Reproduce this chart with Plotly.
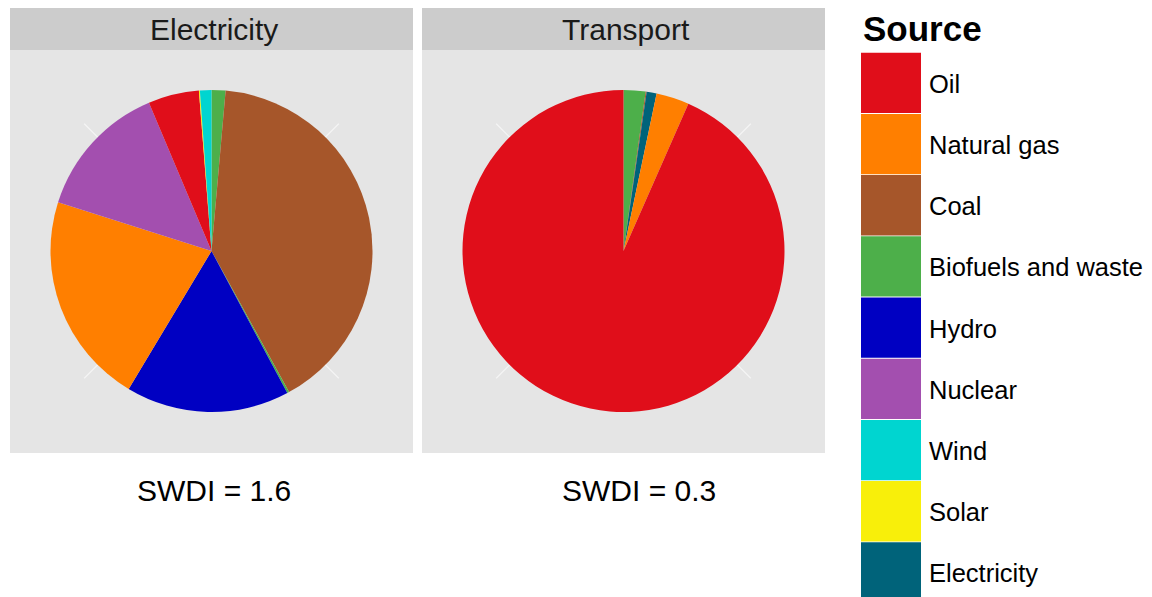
import plotly.graph_objects as go

W, H = 1152, 597
OX, OY = 8, 8  # page body margin compensation

# ---- data ----
source_names = ["Oil", "Natural gas", "Coal", "Biofuels and waste", "Hydro",
                "Nuclear", "Wind", "Solar", "Electricity"]
source_colors = ["#E00E1A", "#FF7F00", "#A6562A", "#4DAF4A", "#0000C2",
                 "#A34FAF", "#00D5D0", "#F8EF0A", "#00637A"]

panel_titles = ["Electricity", "Transport"]
swdi_labels = ["SWDI = 1.6", "SWDI = 0.3"]

elec_sources = ["Biofuels and waste", "Coal", "Biofuels and waste", "Hydro",
                "Natural gas", "Nuclear", "Oil", "Solar", "Wind"]
elec_values = [1.4, 40.6, 0.2, 16.4, 21.3, 13.75, 5.1, 0.1, 1.15]

trans_sources = ["Biofuels and waste", "Coal", "Electricity", "Natural gas", "Oil"]
trans_values = [2.2, 0.1, 1.0, 3.3, 93.4]

color_map = dict(zip(source_names, source_colors))

FONT = "Liberation Sans, Arial, Helvetica, sans-serif"


def px(x):
    return (x - OX) / W


def py(y):
    return 1 - (y - OY) / H


fig = go.Figure()

panels = [(10, 413), (422, 825)]
strip_top, strip_bot, panel_bot = 8, 50, 453
pie_r = 161
pie_cy = 251

shapes = []
annotations = []

for (x0, x1), title in zip(panels, panel_titles):
    shapes.append(dict(type="rect", xref="paper", yref="paper",
                       x0=px(x0), x1=px(x1), y0=py(strip_bot), y1=py(strip_top),
                       fillcolor="#CCCCCC", line=dict(width=0), layer="below"))
    shapes.append(dict(type="rect", xref="paper", yref="paper",
                       x0=px(x0), x1=px(x1), y0=py(panel_bot), y1=py(strip_bot),
                       fillcolor="#E5E5E5", line=dict(width=0), layer="below"))
    cx = (x0 + x1) / 2
    for sx, sy in [(-1, -1), (1, -1), (-1, 1), (1, 1)]:
        d0 = (pie_r - 4) / 2 ** 0.5
        d1 = 180 / 2 ** 0.5
        shapes.append(dict(type="line", xref="paper", yref="paper",
                           x0=px(cx + sx * d0), y0=py(pie_cy + sy * d0),
                           x1=px(cx + sx * d1), y1=py(pie_cy + sy * d1),
                           line=dict(color="#F5F5F5", width=1.2), layer="below"))
    annotations.append(dict(text=title, x=px(cx + 2), y=py(29), xref="paper", yref="paper",
                            showarrow=False, xanchor="center", yanchor="middle",
                            font=dict(family=FONT, size=30, color="#1A1A1A")))

for label, xc in zip(swdi_labels, [214, 639]):
    annotations.append(dict(text=label, x=px(xc), y=py(491), xref="paper", yref="paper",
                            showarrow=False, xanchor="center", yanchor="middle",
                            font=dict(family=FONT, size=30, color="black")))

for (x0, x1), srcs, vals in zip(panels, [elec_sources, trans_sources],
                                [elec_values, trans_values]):
    cx = (x0 + x1) / 2
    fig.add_trace(go.Pie(
        values=vals,
        text=srcs,
        sort=False,
        direction="clockwise",
        rotation=0,
        textinfo="none",
        hovertemplate="%{text}: %{value}<extra></extra>",
        marker=dict(colors=[color_map[s] for s in srcs], line=dict(width=0)),
        domain=dict(x=[px(cx - pie_r), px(cx + pie_r)],
                    y=[py(pie_cy + pie_r), py(pie_cy - pie_r)]),
        showlegend=False,
    ))

# legend
annotations.append(dict(text="<b>Source</b>", x=px(861), y=py(28), xref="paper", yref="paper",
                        showarrow=False, xanchor="left", yanchor="middle",
                        font=dict(family=FONT, size=35, color="black")))
step = 61.2
top0 = 52.7
for i, (name, col) in enumerate(zip(source_names, source_colors)):
    t = top0 + i * step
    shapes.append(dict(type="rect", xref="paper", yref="paper",
                       x0=px(861), x1=px(921), y0=py(t + 60.3), y1=py(t),
                       fillcolor=col, line=dict(width=0)))
    annotations.append(dict(text=name, x=px(927), y=py(t + 31), xref="paper", yref="paper",
                            showarrow=False, xanchor="left", yanchor="middle",
                            font=dict(family=FONT, size=25.5, color="black")))

fig.update_layout(
    width=W, height=H,
    margin=dict(l=0, r=0, t=0, b=0),
    paper_bgcolor="white",
    plot_bgcolor="white",
    shapes=shapes,
    annotations=annotations,
)

fig.write_html("out.html")
